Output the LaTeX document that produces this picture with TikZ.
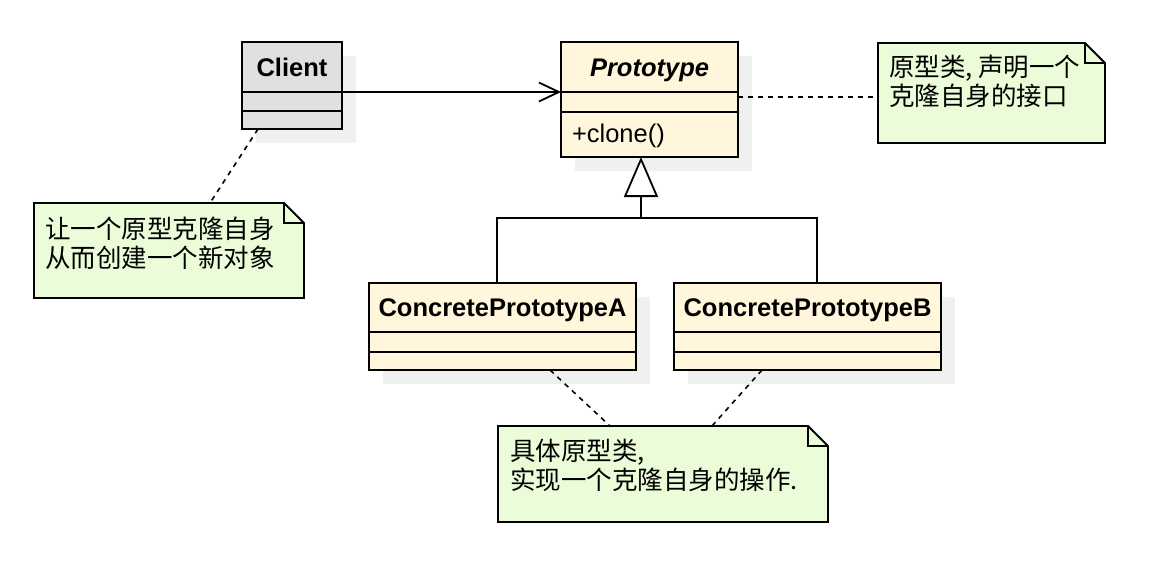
\documentclass[tikz,border=0pt]{standalone}
\usepackage{fontspec}
\setmainfont{Liberation Sans}
\newfontfamily\cjk{Noto Sans CJK SC}
\usetikzlibrary{arrows.meta,shadows,calc}
\definecolor{clsfill}{HTML}{FFF6DC}
\definecolor{clientfill}{HTML}{E0E0E0}
\definecolor{notefill}{HTML}{EBFCD9}
\definecolor{shadowgray}{HTML}{F0F0F0}
\newcommand\mysz{\fontsize{25.5pt}{29pt}\selectfont}
\begin{document}
\begin{tikzpicture}[x=1pt,y=-1pt,
  every node/.style={inner sep=0pt,outer sep=0pt},
  classbox/.style={draw=black,line width=2pt,anchor=north west,fill=clsfill,
    general shadow={shadow xshift=14pt,shadow yshift=-14pt,fill=shadowgray}},
  divider/.style={line width=2pt},
  clsname/.style={font=\mysz\bfseries,anchor=base},
  member/.style={font=\mysz,anchor=base west},
  noteph/.style={anchor=north west,draw=none,fill=none},
  noteshape/.style={draw=black,line width=1.8pt,fill=notefill,line join=miter},
  notetext/.style={font=\cjk\mysz,anchor=north west,align=left},
  dashline/.style={line width=1.6pt,dash pattern=on 5pt off 5pt},
  assoc/.style={line width=1.8pt,-{Straight Barb[length=20pt,width=19pt,line width=1.8pt]}},
  genline/.style={line width=1.8pt},
  gen/.style={line width=1.8pt,-{Triangle[length=40pt,width=34pt,fill=white,line width=1.8pt]}}
]
\useasboundingbox (0,0) rectangle (1172,582);

% notes (placeholders)
\node[noteph,minimum width=270pt,minimum height=95pt] (nl) at (34,203) {};
\node[noteph,minimum width=227pt,minimum height=100pt] (ntr) at (878,43) {};
\node[noteph,minimum width=330pt,minimum height=96pt] (nb) at (498,426) {};

% classes
\node[classbox,fill=clientfill,minimum width=100pt,minimum height=87pt] (client) at (242,42) {};
\draw[divider] ($(client.north west)+(0,50)$) -- ($(client.north east)+(0,50)$);
\draw[divider] ($(client.north west)+(0,69)$) -- ($(client.north east)+(0,69)$);
\node[clsname] (clientname) at (292,76.5) {Client};

\node[classbox,minimum width=177pt,minimum height=115pt] (proto) at (561,42) {};
\draw[divider] ($(proto.north west)+(0,50)$) -- ($(proto.north east)+(0,50)$);
\draw[divider] ($(proto.north west)+(0,70)$) -- ($(proto.north east)+(0,70)$);
\node[clsname,font=\mysz\bfseries\itshape] (protoname) at (649.5,76.5) {Prototype};
\node[member] (clone) at (572,142) {+clone()};

\node[classbox,minimum width=267pt,minimum height=87pt] (ca) at (369,283) {};
\draw[divider] ($(ca.north west)+(0,49)$) -- ($(ca.north east)+(0,49)$);
\draw[divider] ($(ca.north west)+(0,69)$) -- ($(ca.north east)+(0,69)$);
\node[clsname] (caname) at (502.5,316.5) {ConcretePrototypeA};

\node[classbox,minimum width=267pt,minimum height=87pt] (cb) at (674,283) {};
\draw[divider] ($(cb.north west)+(0,49)$) -- ($(cb.north east)+(0,49)$);
\draw[divider] ($(cb.north west)+(0,69)$) -- ($(cb.north east)+(0,69)$);
\node[clsname] (cbname) at (807.5,316.5) {ConcretePrototypeB};

% note shapes
\foreach \n in {nl,ntr,nb}{
  \filldraw[noteshape] (\n.south west) -- (\n.north west) -- ($(\n.north east)+(-20,0)$)
     -- ($(\n.north east)+(0,20)$) -- (\n.south east) -- cycle;
  \draw[noteshape,fill=none] ($(\n.north east)+(-20,0)$) -- ($(\n.north east)+(-20,20)$)
     -- ($(\n.north east)+(0,20)$);
}
\node[notetext] (nltext) at (45,217) {让一个原型克隆自身\\从而创建一个新对象};
\node[notetext] (ntrtext) at (889,55) {原型类, 声明一个\\克隆自身的接口};
\node[notetext] (nbtext) at (510,439) {具体原型类,\\实现一个克隆自身的操作.};

% connectors
\draw[assoc] ([yshift=-6.5pt]client.east) -- ([yshift=7.5pt]proto.west);
\coordinate (j) at (641,218);
\draw[genline] ([xshift=-5.5pt]ca.north) |- (j);
\draw[genline] ([xshift=9.5pt]cb.north) |- (j);
\draw[gen] (j) -- ([xshift=-8.5pt]proto.south);

\draw[dashline] ([xshift=-34pt]client.south) -- ([xshift=41pt]nl.north);
\draw[dashline] ([yshift=2.5pt]proto.east) -- ([yshift=-4pt]ntr.west);
\draw[dashline] ([xshift=47.5pt]ca.south) -- ([xshift=-53pt]nb.north);
\draw[dashline] ([xshift=-45.5pt]cb.south) -- ([xshift=49pt]nb.north);
\end{tikzpicture}
\end{document}
